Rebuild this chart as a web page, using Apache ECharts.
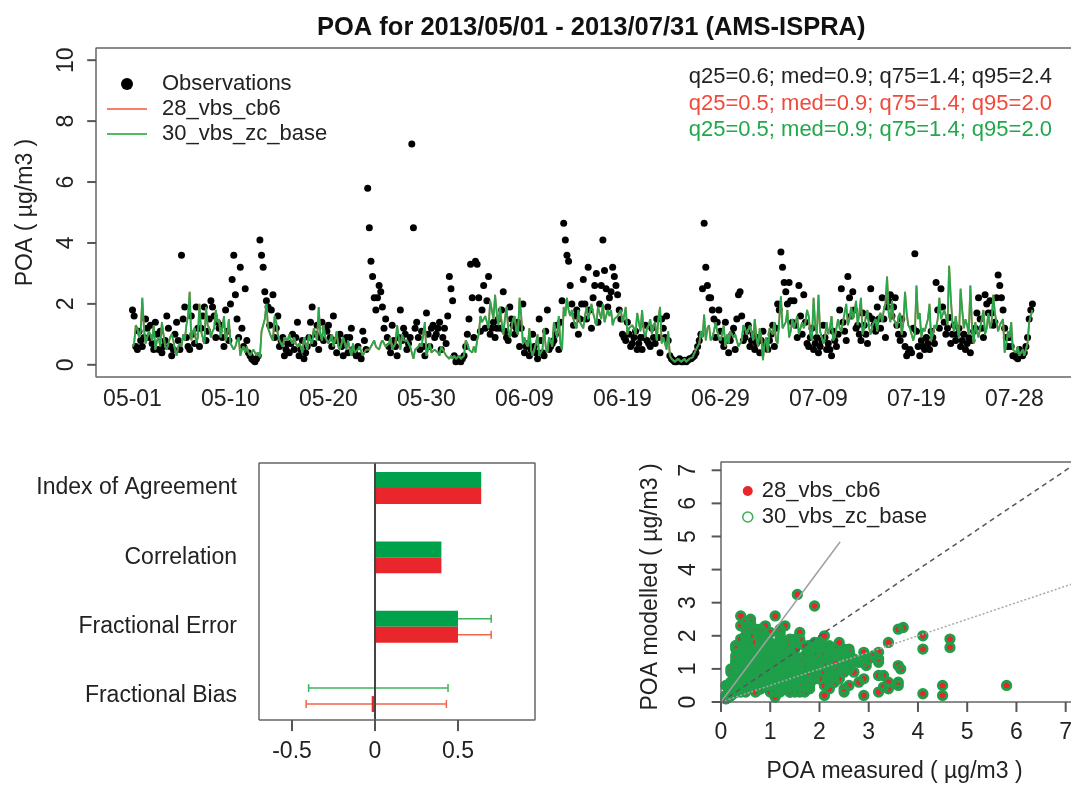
<!DOCTYPE html>
<html><head><meta charset="utf-8">
<script src="https://cdn.jsdelivr.net/npm/echarts@6/dist/echarts.min.js"></script>
<style>html,body{margin:0;padding:0;background:#fff}#c{width:1071px;height:785px}</style>
</head><body><div id="c"></div>
<script>
// ---------- data: 6 samples per day (00 04 08 12 16 20 h) ----------
const obsByDay = [
[1.8,1.6,0.6,0.5,1.1,0.8],[0.6,0.9,1.5,1.2,0.9,1.3],[0.7,0.5,1.4,1.0,0.5,1.1],[0.4,0.6,0.8,1.6,1.2,0.6],
[0.3,0.5,1.0,1.4,0.8,0.5],[3.6,1.5,1.9,0.9,0.6,0.5],[1.6,1.0,0.7,1.9,1.2,0.6],[1.2,1.6,1.9,0.8,1.1,1.5],
[2.1,1.9,1.6,0.9,1.4,1.2],[1.3,0.9,0.6,1.8,1.1,0.8],[2.0,2.8,3.6,2.3,1.5,0.9],[3.2,1.2,0.6,2.5,0.8,0.4],
[0.3,0.2,0.15,0.1,0.2,0.3],[4.1,3.6,3.2,2.4,2.1,1.9],[1.3,1.8,2.3,0.9,1.2,1.6],[0.6,0.8,0.9,0.3,0.5,0.7],
[0.4,0.7,1.0,0.5,0.9,1.4],[0.3,0.5,0.8,0.2,0.4,0.6],[0.9,1.4,1.9,0.7,1.0,1.3],[0.5,0.9,1.4,0.8,1.2,1.1],
[1.3,0.9,0.6,1.6,0.8,0.4],[0.8,1.0,0.6,0.3,0.7,0.9],[0.4,0.9,1.2,0.5,0.4,0.3],[0.6,0.3,0.2,1.1,0.8,0.5],
[5.8,4.5,3.4,2.9,2.2,1.8],[2.2,2.6,2.4,1.9,1.2,1.5],[0.9,0.6,0.4,1.3,0.8,0.6],[0.3,0.9,1.8,0.8,1.2,1.0],
[0.5,0.7,0.9,7.25,4.5,1.2],[1.4,0.9,0.5,1.1,0.6,0.3],[1.7,1.0,0.6,1.2,1.3,0.9],[1.0,1.2,1.4,0.5,0.9,1.2],
[0.7,1.6,2.9,2.5,2.1,0.3],[0.1,0.15,0.2,0.1,0.2,0.3],[0.6,1.0,1.5,3.3,2.2,0.9],[3.4,3.3,2.2,1.1,1.8,2.6],
[1.2,2.1,2.9,1.0,1.2,1.4],[0.9,1.2,1.5,1.2,1.8,2.4],[1.1,0.9,0.8,1.9,1.5,1.3],[1.0,1.2,1.4,0.6,1.2,2.0],
[0.4,0.6,0.7,0.3,0.5,1.0],[0.6,0.4,0.2,1.5,0.8,0.4],[0.3,1.1,1.8,0.5,0.6,0.7],[0.8,1.0,1.3,0.5,1.4,2.1],
[4.65,4.1,3.6,3.4,2.6,2.0],[1.3,1.6,1.8,1.0,1.5,2.0],[2.8,2.0,1.5,3.2,1.8,1.2],[2.2,2.6,3.0,1.4,2.0,2.6],
[4.1,3.1,2.5,1.9,2.2,2.4],[3.2,2.9,2.6,2.3,1.8,1.5],[1.0,0.9,0.8,1.4,1.0,0.6],[0.7,0.9,1.1,0.5,0.7,0.9],
[0.5,0.9,1.3,0.8,0.7,0.6],[1.2,0.9,0.7,1.5,0.9,0.4],[1.5,1.2,0.9,1.6,0.8,0.3],[0.2,0.15,0.1,0.1,0.15,0.2],
[0.1,0.1,0.15,0.1,0.15,0.2],[0.2,0.25,0.3,0.4,0.6,0.8],[1.0,2.5,4.65,3.2,2.6,2.2],[2.2,1.8,1.5,0.9,1.4,1.8],
[1.1,0.8,0.6,1.4,0.8,0.4],[0.8,1.0,1.2,0.5,1.5,2.3],[2.4,1.6,0.8,0.9,1.1,1.3],[0.6,0.8,1.0,0.5,0.7,0.9],
[0.4,0.8,1.1,0.7,0.6,0.5],[0.8,1.0,1.3,0.6,1.2,2.0],[1.8,3.7,3.2,2.7,2.4,2.0],[2.7,2.1,1.4,2.1,1.3,0.9],
[2.6,1.6,1.0,2.3,1.4,0.7],[0.6,0.9,1.2,0.5,0.7,0.9],[0.4,0.6,0.8,1.3,0.9,0.5],[0.7,0.5,0.3,1.1,0.8,0.6],
[1.0,1.8,2.5,1.4,1.1,0.8],[2.9,2.2,1.6,2.4,1.8,1.2],[1.3,1.0,0.8,1.7,1.3,1.0],[0.7,1.6,2.5,1.5,1.3,1.1],
[1.9,1.5,1.2,2.2,1.5,0.9],[1.9,2.1,2.3,1.6,1.9,2.2],[1.3,1.0,0.8,1.5,1.0,0.6],[0.3,0.4,0.5,0.4,1.2,3.65],
[1.1,0.6,0.3,0.8,0.6,0.5],[0.9,0.7,0.5,1.1,0.9,0.7],[2.7,1.8,1.2,2.5,1.9,1.4],[1.0,1.2,1.55,0.7,1.0,1.3],
[0.8,1.0,1.2,0.6,0.8,1.0],[0.5,0.7,0.9,0.4,0.8,1.1],[1.2,1.7,2.2,1.5,1.2,0.9],[2.3,2.0,1.7,2.1,1.7,1.3],
[1.4,2.2,2.95,2.6,2.2,1.8],[1.2,0.9,0.6,0.9,0.6,0.3],[0.3,0.25,0.2,0.5,0.4,0.3],[0.4,0.6,0.9,1.5,1.8,2.0]
];
// the two model runs are read as identical (same quantiles; the lines and points overlap)
const modelByDay = [
[0.6,0.7,1.3,1.2,0.9,1.1],[2.2,1.2,0.7,0.9,1.1,1.0],[0.8,1.3,0.5,0.8,0.9,0.6],[1.4,1.0,0.6,0.5,0.5,0.9],
[1.0,0.8,0.5,0.3,0.6,0.7],[0.6,1.0,0.8,1.3,1.6,2.4],[0.8,1.1,1.2,0.7,0.9,2.0],[1.1,0.9,0.7,1.9,1.3,1.2],
[0.9,1.1,1.2,1.8,1.4,1.5],[0.9,1.2,1.6,0.8,1.0,1.5],[0.7,0.6,0.5,0.6,0.8,0.9],[0.3,0.5,0.6,0.4,0.6,0.4],
[0.3,0.4,0.5,0.5,0.3,0.4],[0.25,1.1,1.3,1.5,2.0,1.2],[1.2,0.9,0.8,1.6,1.4,1.0],[0.8,0.7,0.6,0.9,0.9,0.8],
[1.0,0.8,0.7,0.9,0.7,0.6],[0.7,0.6,0.4,0.9,0.7,0.5],[1.0,0.8,0.7,1.2,1.0,0.8],[1.9,1.0,0.8,1.3,0.9,0.9],
[0.7,0.8,1.0,0.6,0.8,1.1],[0.6,0.5,0.7,0.9,0.7,0.5],[0.8,0.5,0.3,0.7,0.4,0.4],[0.5,0.6,0.6,0.3,0.4,0.5],
[0.5,0.5,0.6,0.7,0.8,0.6],[0.6,0.5,0.7,0.8,0.7,0.6],[0.6,0.7,0.9,0.5,0.6,0.7],[1.3,0.9,0.5,1.0,0.8,0.8],
[0.8,0.7,0.6,0.4,0.2,0.5],[0.5,0.6,0.7,0.6,1.0,1.4],[0.3,0.5,0.7,0.4,0.4,0.5],[0.5,0.4,0.3,0.6,0.5,0.4],
[0.3,0.3,0.2,0.3,0.2,0.3],[0.2,0.2,0.3,0.2,0.2,0.3],[0.8,0.7,0.5,0.45,0.4,0.6],[0.4,0.8,1.0,1.6,1.4,1.5],
[1.6,1.4,1.2,2.1,1.8,1.5],[2.3,1.7,1.3,1.9,1.4,1.0],[1.5,1.9,1.2,0.9,1.2,1.5],[1.6,1.1,1.0,2.2,1.6,0.7],
[0.9,0.7,0.6,1.2,0.5,0.3],[0.5,0.7,1.0,0.3,0.4,0.5],[1.2,0.6,0.4,0.9,0.8,0.6],[1.4,1.1,0.9,1.6,0.7,0.5],
[1.9,1.6,2.2,1.8,1.6,1.8],[1.5,1.3,1.2,1.8,1.4,1.3],[1.2,1.6,1.9,1.5,1.7,2.0],[1.7,1.5,1.3,1.9,1.7,1.5],
[2.0,1.4,1.6,1.8,1.6,1.8],[1.3,1.5,1.5,1.6,1.7,1.8],[1.4,1.6,1.9,1.0,1.2,1.2],[1.3,1.2,1.0,1.7,1.4,1.1],
[1.8,1.1,0.9,1.2,1.3,1.5],[1.0,1.3,1.4,0.8,1.5,1.9],[0.7,0.9,0.9,0.5,1.1,0.3],[0.2,0.15,0.1,0.15,0.2,0.2],
[0.1,0.15,0.2,0.1,0.15,0.2],[0.2,0.25,0.3,0.5,0.6,0.7],[1.1,0.9,1.65,0.8,1.2,1.3],[0.8,0.9,1.1,1.4,1.1,0.9],
[0.8,1.0,1.3,0.6,1.0,0.7],[1.1,1.0,0.9,1.0,0.8,0.6],[0.7,0.8,1.3,1.2,1.0,1.0],[1.3,1.1,0.8,1.5,0.9,0.6],
[1.2,0.9,0.15,0.7,0.9,0.4],[1.2,1.1,1.0,1.4,0.8,0.7],[1.5,2.25,1.2,1.3,1.4,1.8],[0.9,1.1,1.5,1.2,1.4,1.6],
[1.0,1.2,1.4,1.2,1.4,1.8],[1.6,1.0,0.8,2.2,1.3,1.0],[2.3,1.1,0.9,0.7,0.9,1.4],[1.0,1.2,1.6,0.8,0.9,1.2],
[1.5,1.2,1.1,1.4,1.7,2.0],[1.3,1.5,1.9,1.5,1.7,2.1],[1.3,1.7,2.2,1.0,1.2,1.6],[1.8,1.2,1.0,1.3,1.4,1.5],
[1.1,1.6,1.7,1.4,1.8,2.0],[2.9,1.7,1.4,2.1,1.5,1.4],[1.2,1.6,1.7,1.0,1.4,2.4],[1.7,1.3,1.2,1.0,0.8,1.0],
[2.6,1.5,1.7,0.9,1.2,1.1],[1.1,1.5,2.0,0.8,1.0,1.3],[1.2,1.5,2.2,1.5,1.5,1.8],[1.6,1.3,3.25,2.2,1.4,1.1],
[1.6,1.2,0.9,2.5,1.8,1.2],[1.5,1.3,1.0,2.6,1.2,0.7],[1.4,1.1,0.9,1.2,1.5,1.8],[1.0,1.2,1.7,1.2,1.4,2.3],
[1.7,1.4,1.1,1.3,1.4,1.5],[0.4,0.7,1.1,0.9,1.4,0.5],[0.5,0.4,0.6,0.3,0.4,0.5],[0.3,0.5,0.7,1.4,1.6,1.8]
];
const cb6ByDay = modelByDay;
const zcBaseByDay = modelByDay;
const samplesPerDay = 6;

const tickDays = [0,10,20,30,40,50,60,70,80,90];
const tickLabels = ['05-01','05-10','05-20','05-30','06-09','06-19','06-29','07-09','07-19','07-28'];
const yTicksTop = [0,2,4,6,8,10];

const statsObs = 'q25=0.6; med=0.9; q75=1.4; q95=2.4';
const statsCb6 = 'q25=0.5; med=0.9; q75=1.4; q95=2.0';
const statsZc  = 'q25=0.5; med=0.9; q75=1.4; q95=2.0';

const barCategories = ['Fractional Bias','Fractional Error','Correlation','Index of Agreement'];
const barCb6 = [-0.02, 0.50, 0.40, 0.64];
const barZc  = [-0.004, 0.50, 0.40, 0.64];
const errLowCb6  = [-0.415, 0.30, null, null];
const errHighCb6 = [0.43, 0.70, null, null];
const errLowZc   = [-0.40, 0.30, null, null];
const errHighZc  = [0.44, 0.70, null, null];
const barTicks = [-0.5, 0, 0.5];
const barRows = [0,1,2,3];

const scatterTicks = [0,1,2,3,4,5,6,7];
const line11 = [[0,0],[7.25,7.25]];
const line21 = [[0,0],[2.42,4.84]];
const line12 = [[0,0],[7.25,3.625]];

// ---------- build ----------
const FONT = 'Liberation Sans, Arial, Helvetica, sans-serif';
const obsSeries = [], cb6Series = [], zcSeries = [], pairsCb6 = [], pairsZc = [];
obsByDay.forEach((row, d) => row.forEach((v, k) => {
  const t = d + k / samplesPerDay;
  obsSeries.push([t, v]);
  cb6Series.push([t, cb6ByDay[d][k]]);
  zcSeries.push([t, zcBaseByDay[d][k]]);
  pairsCb6.push([v, cb6ByDay[d][k]]);
  pairsZc.push([v, zcBaseByDay[d][k]]);
}));

const GREEN = '#1f9f4a', RED = '#e8262c';
const axisGray = '#666', tickGray = '#555', txt = '#222';
// axis ranges (the grids include a small margin so that outward tick marks sit inside them)
const X0 = { min: -4.745, max: 98.83, box: -3.724 }, Y0 = { min: -0.4, max: 10.4 };
const X1 = { min: -0.699, max: 0.964 }, Y1 = { min: -0.518, max: 3.36, box: -0.345 };
const X2 = { min: -0.203, max: 7.25, box: 0 }, Y2 = { min: -0.302, max: 7.25, box: 0 };

function barSeries(name, values, color, up) {
  return {
    type: 'custom', name, xAxisIndex: 1, yAxisIndex: 1, z: 3,
    data: values.map((v, i) => [v, i]), encode: { x: 0, y: 1 },
    renderItem(params, api) {
      const v = api.value(0), i = api.value(1);
      const a = api.coord([0, i]), b = api.coord([v, i]);
      const h = api.size([0, 0.23])[1];
      const x = Math.min(a[0], b[0]), w = Math.max(Math.abs(b[0] - a[0]), 1);
      return { type: 'rect', shape: { x, y: up ? a[1] - h : a[1], width: w, height: h }, style: { fill: color } };
    }
  };
}
function errSeries(name, lows, highs, color, up) {
  const data = lows.map((lo, i) => lo == null ? null : [lo, highs[i], i]).filter(Boolean);
  return {
    type: 'custom', name, xAxisIndex: 1, yAxisIndex: 1, z: 2,
    data, encode: { x: [0, 1], y: 2 },
    renderItem(params, api) {
      const lo = api.value(0), hi = api.value(1), i = api.value(2);
      const h = api.size([0, 0.23])[1];
      const p1 = api.coord([lo, i]), p2 = api.coord([hi, i]);
      const y = p1[1] + (up ? -h / 2 : h / 2), c = 4;
      const st = { stroke: color, lineWidth: 1.5 };
      return { type: 'group', children: [
        { type: 'line', shape: { x1: p1[0], y1: y, x2: p2[0], y2: y }, style: st },
        { type: 'line', shape: { x1: p1[0], y1: y - c, x2: p1[0], y2: y + c }, style: st },
        { type: 'line', shape: { x1: p2[0], y1: y - c, x2: p2[0], y2: y + c }, style: st }
      ]};
    }
  };
}
function segLine(xi, yi, pts, name, color, width) {
  return { type: 'line', name: name || 'box', xAxisIndex: xi, yAxisIndex: yi, data: pts, symbol: 'none', clip: false, silent: true, z: 7,
    lineStyle: { color: color || axisGray, width: width || 1.5 } };
}
// one short segment per tick, in data space, just outside the plot box
function tickSegs(xi, yi, dir, values, fixed, outLen) {
  return values.map(v => segLine(xi, yi,
    dir === 'x' ? [[v, fixed], [v, fixed - outLen]] : [[fixed, v], [fixed - outLen, v]], 'axis tick', tickGray, 2));
}
const noAxLine = { show: false, onZero: false };

const chart = echarts.init(document.getElementById('c'));
const option = {
  animation: false,
  backgroundColor: '#fff',
  textStyle: { fontFamily: FONT },
  title: { text: 'POA for 2013/05/01 - 2013/07/31 (AMS-ISPRA)', left: 312, top: 10,
    textStyle: { fontSize: 25.5, fontWeight: 'bold', color: '#111', fontFamily: FONT } },
  legend: [
    { left: 102, top: 68, orient: 'vertical', itemWidth: 40, itemHeight: 12, itemGap: 3, selectedMode: false,
      textStyle: { fontSize: 22, color: txt, fontFamily: FONT, padding: [0, 0, 0, 10] },
      data: [{ name: 'Observations', icon: 'circle', itemStyle: { color: '#000' } },
             { name: '28_vbs_cb6', icon: 'path://M0,0H40V2.2H0Z', itemStyle: { color: '#f4806a', borderWidth: 0 } },
             { name: '30_vbs_zc_base', icon: 'path://M0,0H40V2.2H0Z', itemStyle: { color: '#4dba64', borderWidth: 0 } }] },
    { left: 737, top: 475, orient: 'vertical', itemWidth: 10, itemHeight: 10, itemGap: 4, selectedMode: false,
      textStyle: { fontSize: 22, color: txt, fontFamily: FONT, padding: [0, 0, 0, 4] },
      data: [{ name: '28_vbs_cb6', icon: 'circle', itemStyle: { color: RED, borderWidth: 0 } },
             { name: '30_vbs_zc_base', icon: 'circle', itemStyle: { color: 'rgba(0,0,0,0)', borderColor: '#3aae5a', borderWidth: 1.5 } }] }
  ],
  graphic: [
    { type: 'text', style: { text: statsObs, x: 1052, y: 77, align: 'right', verticalAlign: 'middle', fontSize: 22, fontFamily: FONT, fill: txt } },
    { type: 'text', style: { text: statsCb6, x: 1052, y: 103.5, align: 'right', verticalAlign: 'middle', fontSize: 22, fontFamily: FONT, fill: '#ef4a3c' } },
    { type: 'text', style: { text: statsZc, x: 1052, y: 130, align: 'right', verticalAlign: 'middle', fontSize: 22, fontFamily: FONT, fill: '#22a84c' } }
  ],
  grid: [
    { left: 86, top: 48, right: -30, bottom: 408, show: false, outerBoundsMode: 'none', containLabel: false },
    { left: 259, top: 463, right: 536, bottom: 53, show: false, outerBoundsMode: 'none', containLabel: false },
    { left: 711, top: 462, right: -7, bottom: 73, show: false, outerBoundsMode: 'none', containLabel: false }
  ],
  xAxis: [
    { type: 'value', gridIndex: 0, min: X0.min, max: X0.max, axisLine: noAxLine, axisTick: { show: false }, splitLine: { show: false },
      axisLabel: { customValues: tickDays, formatter: v => { const i = tickDays.indexOf(v); return i >= 0 ? tickLabels[i] : ''; },
        fontSize: 23, color: txt, margin: 11, fontFamily: FONT } },
    { type: 'value', gridIndex: 1, min: X1.min, max: X1.max, axisLine: noAxLine, splitLine: { show: false }, axisTick: { show: false },
      axisLabel: { customValues: barTicks, formatter: v => String(v), fontSize: 23, color: txt, margin: 8, fontFamily: FONT } },
    { type: 'value', gridIndex: 2, min: X2.min, max: X2.max, axisLine: noAxLine, splitLine: { show: false }, axisTick: { show: false },
      axisLabel: { customValues: scatterTicks, fontSize: 23, color: txt, margin: 9, fontFamily: FONT },
      name: 'POA measured ( µg/m3 )', nameLocation: 'middle', nameGap: 48, nameTextStyle: { fontSize: 23, color: txt, fontFamily: FONT } }
  ],
  yAxis: [
    { type: 'value', gridIndex: 0, min: Y0.min, max: Y0.max, axisLine: noAxLine, splitLine: { show: false }, axisTick: { show: false },
      axisLabel: { customValues: yTicksTop, rotate: 90, fontSize: 23, color: txt, margin: 8, fontFamily: FONT },
      name: 'POA ( µg/m3 )', nameLocation: 'middle', nameGap: 49, nameTextStyle: { fontSize: 23, color: txt, fontFamily: FONT } },
    { type: 'value', gridIndex: 1, min: Y1.min, max: Y1.max, axisLine: noAxLine, splitLine: { show: false }, axisTick: { show: false },
      axisLabel: { customValues: barRows, formatter: v => barCategories[v] || '', fontSize: 23, color: txt, margin: 22, fontFamily: FONT } },
    { type: 'value', gridIndex: 2, min: Y2.min, max: Y2.max, axisLine: noAxLine, splitLine: { show: false }, axisTick: { show: false },
      axisLabel: { customValues: scatterTicks, rotate: 90, fontSize: 23, color: txt, margin: 11, fontFamily: FONT },
      name: 'POA modelled ( µg/m3 )', nameLocation: 'middle', nameGap: 49, nameTextStyle: { fontSize: 23, color: txt, fontFamily: FONT } }
  ],
  series: [
    { type: 'line', name: '28_vbs_cb6', xAxisIndex: 0, yAxisIndex: 0, data: cb6Series, symbol: 'none', showSymbol: false, z: 3,
      lineStyle: { color: '#f26b50', width: 1.8 }, itemStyle: { color: '#f26b50' } },
    { type: 'line', name: '30_vbs_zc_base', xAxisIndex: 0, yAxisIndex: 0, data: zcSeries, symbol: 'none', showSymbol: false, z: 4,
      lineStyle: { color: '#27a84c', width: 1.8 }, itemStyle: { color: '#27a84c' } },
    { type: 'scatter', name: 'Observations', xAxisIndex: 0, yAxisIndex: 0, data: obsSeries, symbolSize: 7, z: 2,
      itemStyle: { color: '#000', opacity: 1 } },
    segLine(0, 0, [[X0.max, Y0.max], [X0.box, Y0.max], [X0.box, Y0.min], [X0.max, Y0.min]]),
    ...tickSegs(0, 0, 'y', yTicksTop, X0.box, 0.9),

    errSeries('err_zc', errLowZc, errHighZc, '#3db35a', true),
    errSeries('err_cb6', errLowCb6, errHighCb6, '#f26548', false),
    barSeries('bar_zc', barZc, '#00a14b', true),
    barSeries('bar_cb6', barCb6, RED, false),
    { type: 'line', name: 'zero', xAxisIndex: 1, yAxisIndex: 1, data: [[0, Y1.box], [0, Y1.max]], symbol: 'none', z: 5,
      lineStyle: { color: '#444', width: 2 } },
    segLine(1, 1, [[X1.min, Y1.box], [X1.max, Y1.box], [X1.max, Y1.max], [X1.min, Y1.max], [X1.min, Y1.box]]),
    ...tickSegs(1, 1, 'x', barTicks, Y1.box, 0.16),

    { type: 'scatter', name: '28_vbs_cb6', xAxisIndex: 2, yAxisIndex: 2, data: pairsCb6, symbol: 'circle', symbolSize: 9, z: 2,
      itemStyle: { color: RED, opacity: 1 } },
    { type: 'scatter', name: '30_vbs_zc_base', xAxisIndex: 2, yAxisIndex: 2, data: pairsZc, symbol: 'circle', symbolSize: 8.5, z: 3,
      itemStyle: { color: 'rgba(0,0,0,0)', borderColor: GREEN, borderWidth: 2.8, opacity: 1 } },
    { type: 'line', name: 'ref 1:1', xAxisIndex: 2, yAxisIndex: 2, data: line11, symbol: 'none', z: 5,
      lineStyle: { color: '#555', width: 1.5, type: [5, 4] } },
    { type: 'line', name: 'ref 2:1', xAxisIndex: 2, yAxisIndex: 2, data: line21, symbol: 'none', z: 5,
      lineStyle: { color: '#a0a0a0', width: 1.5 } },
    { type: 'line', name: 'ref 1:2', xAxisIndex: 2, yAxisIndex: 2, data: line12, symbol: 'none', z: 5,
      lineStyle: { color: '#a8a8a8', width: 1.5, type: [2, 2] } },
    segLine(2, 2, [[X2.max, Y2.box], [X2.box, Y2.box], [X2.box, Y2.max], [X2.max, Y2.max]]),
    ...tickSegs(2, 2, 'x', scatterTicks, Y2.box, 0.30),
    ...tickSegs(2, 2, 'y', scatterTicks, X2.box, 0.19)
  ]
};
chart.setOption(option);
</script>
</body></html>
